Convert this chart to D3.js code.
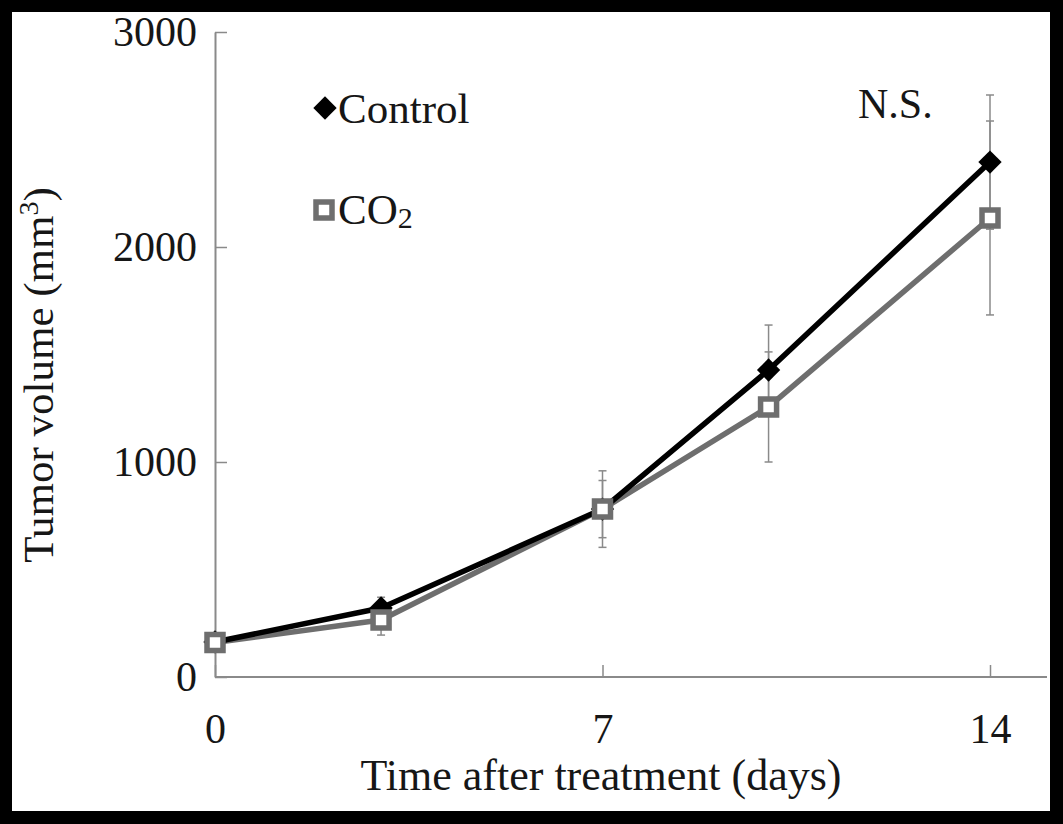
<!DOCTYPE html>
<html>
<head>
<meta charset="utf-8">
<script src="https://cdn.jsdelivr.net/npm/d3@7"></script>
<style>
	body { margin: 0; background: #000; }
	text { font-family: 'Liberation Serif', 'Times New Roman', serif; fill: #161616; }
</style>
</head>
<body>
<script>
// data
const days = [0, 3, 7, 10, 14]
const controlMean = [163, 321, 781, 1428, 2395]
const controlErr = [20, 50, 133, 209, 312]
const co2Mean = [160, 265, 781, 1256, 2135]
const co2Err = [22, 70, 178, 256, 451]
const xTicks = [0, 7, 14]
const yTicks = [0, 1000, 2000, 3000]

const W = 1063
const H = 824
const plot = {left: 215, right: 990, top: 32, bottom: 677, axisEnd: 1047}

const grey = '#6e6e6e'
const axisGrey = '#8a8a8a'

const svg = d3.select('body').append('svg')
	.attr('width', W)
	.attr('height', H)
	.style('display', 'block')

svg.append('rect').attr('width', W).attr('height', H).attr('fill', '#000')
svg.append('rect')
	.attr('x', 12).attr('y', 12)
	.attr('width', 1038).attr('height', 799)
	.attr('fill', '#fff')

const x = d3.scaleLinear()
	.domain([0, 14])
	.range([plot.left, plot.right])

const y = d3.scaleLinear()
	.domain([0, 3000])
	.range([plot.bottom, plot.top])

// y axis, ticks pointing inward
const yAxis = d3.axisLeft(y)
	.tickValues(yTicks)
	.tickFormat(d3.format('d'))
	.tickSizeInner(-12)
	.tickSizeOuter(0)
	.tickPadding(18)

const gy = svg.append('g')
	.attr('transform', `translate(${plot.left},0)`)
	.call(yAxis)
gy.select('.domain').attr('stroke', axisGrey).attr('stroke-width', 2)
gy.selectAll('.tick line').attr('stroke', axisGrey).attr('stroke-width', 1.5)
gy.selectAll('.tick text')
	.attr('font-size', 42)
	.attr('font-family', 'Liberation Serif')
	.attr('fill', '#161616')

// x axis, ticks pointing up
const xAxis = d3.axisBottom(x)
	.tickValues(xTicks)
	.tickSizeInner(-12)
	.tickSizeOuter(0)
	.tickPadding(36)

const gx = svg.append('g')
	.attr('transform', `translate(0,${plot.bottom})`)
	.call(xAxis)
gx.select('.domain').remove()
gx.append('line')
	.attr('x1', plot.left).attr('x2', plot.axisEnd)
	.attr('stroke', axisGrey).attr('stroke-width', 2)
gx.selectAll('.tick line').attr('stroke', axisGrey).attr('stroke-width', 1.5)
gx.selectAll('.tick text')
	.attr('font-size', 42)
	.attr('font-family', 'Liberation Serif')
	.attr('fill', '#161616')

const series = [
	{name: 'Control', mean: controlMean, err: controlErr},
	{name: 'CO2', mean: co2Mean, err: co2Err}
]

// error bars
series.forEach(s => {
	const g = svg.append('g').attr('stroke', axisGrey).attr('stroke-width', 1.5)
	days.forEach((d, i) => {
		const cx = x(d)
		g.append('line')
			.attr('x1', cx).attr('x2', cx)
			.attr('y1', y(s.mean[i] - s.err[i]))
			.attr('y2', y(s.mean[i] + s.err[i]))
		;[s.mean[i] - s.err[i], s.mean[i] + s.err[i]].forEach(v => {
			g.append('line')
				.attr('x1', cx - 4).attr('x2', cx + 4)
				.attr('y1', y(v)).attr('y2', y(v))
		})
	})
})

const line = d3.line()
	.x((d, i) => x(days[i]))
	.y(d => y(d))

// lines, CO2 underneath
svg.append('path')
	.datum(co2Mean)
	.attr('d', line)
	.attr('fill', 'none')
	.attr('stroke', grey)
	.attr('stroke-width', 5.5)
	.attr('stroke-linejoin', 'round')

svg.append('path')
	.datum(controlMean)
	.attr('d', line)
	.attr('fill', 'none')
	.attr('stroke', '#000')
	.attr('stroke-width', 5.5)
	.attr('stroke-linejoin', 'round')

const diamond = d3.symbol().type(d3.symbolSquare).size(272)
const square = d3.symbol().type(d3.symbolSquare).size(256)

svg.selectAll('.ctrl-pt')
	.data(controlMean)
	.enter()
		.append('path')
			.attr('class', 'ctrl-pt')
			.attr('d', diamond)
			.attr('transform', (d, i) => `translate(${x(days[i])},${y(d)}) rotate(45)`)
			.attr('fill', '#000')

svg.selectAll('.co2-pt')
	.data(co2Mean)
	.enter()
		.append('path')
			.attr('class', 'co2-pt')
			.attr('d', square)
			.attr('transform', (d, i) => `translate(${x(days[i])},${y(d)})`)
			.attr('fill', '#fff')
			.attr('stroke', grey)
			.attr('stroke-width', 5.5)

// legend
svg.append('path')
	.attr('d', diamond)
	.attr('transform', 'translate(325,108) rotate(45)')
	.attr('fill', '#000')
svg.append('text')
	.attr('x', 338).attr('y', 123)
	.attr('font-size', 43)
	.text('Control')

svg.append('path')
	.attr('d', square)
	.attr('transform', 'translate(324,210)')
	.attr('fill', '#fff')
	.attr('stroke', grey)
	.attr('stroke-width', 5.5)
const co2Label = svg.append('text')
	.attr('x', 338).attr('y', 224)
	.attr('font-size', 43)
co2Label.append('tspan').text('CO')
co2Label.append('tspan').attr('font-size', 30).attr('dy', 4).text('2')

svg.append('text')
	.attr('x', 858).attr('y', 118)
	.attr('font-size', 42)
	.text('N.S.')

// axis titles
const yTitle = svg.append('text')
	.attr('transform', 'translate(53,375) rotate(-90)')
	.attr('text-anchor', 'middle')
	.attr('font-size', 43)
yTitle.append('tspan').text('Tumor volume (mm')
yTitle.append('tspan').attr('font-size', 28).attr('dy', -15).text('3')
yTitle.append('tspan').attr('dy', 15).text(')')

svg.append('text')
	.attr('x', 601)
	.attr('y', 790)
	.attr('text-anchor', 'middle')
	.attr('font-size', 44)
	.text('Time after treatment (days)')
</script>
</body>
</html>
